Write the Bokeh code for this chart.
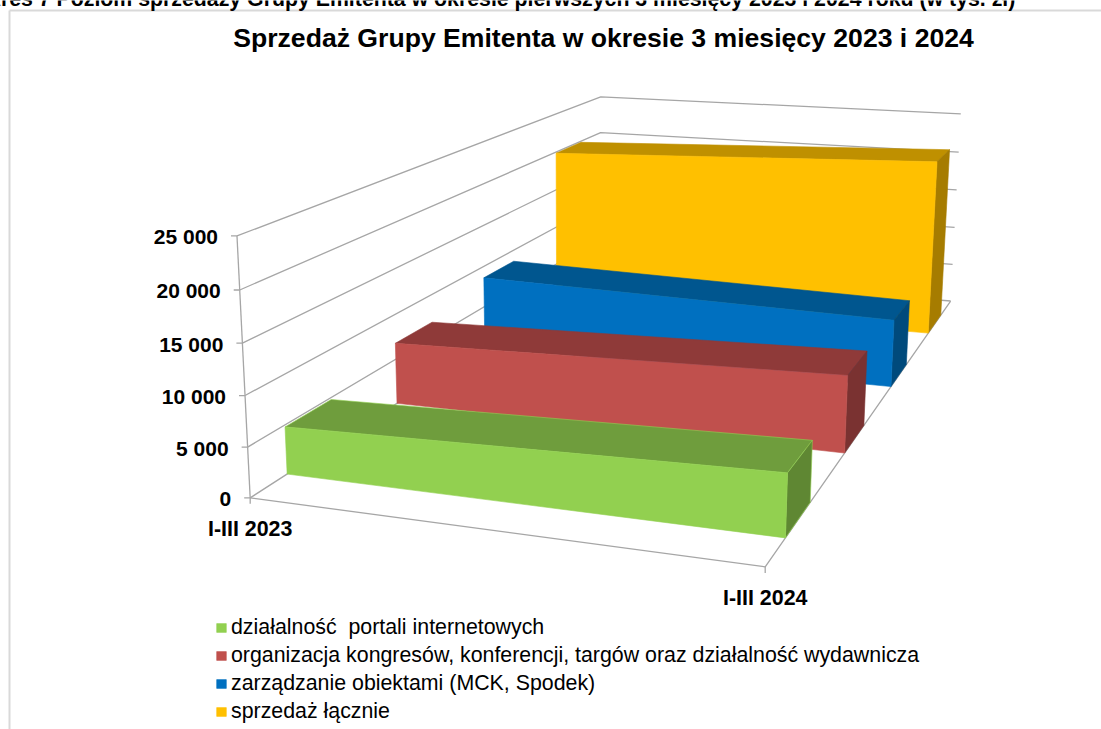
import numpy as np
from bokeh.plotting import figure
from bokeh.models import Legend, LegendItem, Range1d
from bokeh.core.properties import value
from bokeh.embed import file_html
from bokeh.resources import INLINE

# ---- data ----
categories = ["I-III 2023", "I-III 2024"]
series_names = [
    "działalność  portali internetowych",
    "organizacja kongresów, konferencji, targów oraz działalność wydawnicza",
    "zarządzanie obiektami (MCK, Spodek)",
    "sprzedaż łącznie",
]
portale = [4800, 6050]
kongresy = [6800, 8100]
obiekty = [8600, 7700]
lacznie = [19850, 21550]
y_ticks = [0, 5000, 10000, 15000, 20000, 25000]
y_labels = ["0", "5 000", "10 000", "15 000", "20 000", "25 000"]
title = "Sprzedaż Grupy Emitenta w okresie 3 miesięcy 2023 i 2024"
page_caption = "Wykres 7 Poziom sprzedaży Grupy Emitenta w okresie pierwszych 3 miesięcy 2023 i 2024 roku (w tys. zł)"

# ---- styles ----
front = ["#92D050", "#C0504D", "#0070C0", "#FFC000"]
top = ["#6F9D3D", "#8F3A39", "#00568F", "#BF9000"]
side = ["#5F8733", "#7A3231", "#004A7C", "#A67C00"]
edge_top = ["#92D050", "#8F3A39", "#00568F", "#BF9000"]
edge_side = ["#92D050", "#7A3231", "#004A7C", "#A67C00"]
GRID = "#A6A6A6"
FONT = value("Liberation Sans")

# ---- 3D box -> screen projection, fitted on the visible box corners ----
corners = [
    ((0, 0, 0), (249.5, 497.0)),
    ((0, 0, 1), (236.7, 235.5)),
    ((1, 0, 0), (764.7, 566.7)),
    ((1, 1, 0), (950.0, 300.0)),
    ((1, 1, 1), (960.4, 113.7)),
    ((0, 1, 1), (600.0, 96.0)),
    ((0, 1, 0), (600.0, 272.5)),
]
rows = []
for (a, b, c), (sx, sy) in corners:
    rows.append([a, b, c, 1, 0, 0, 0, 0, -sx * a, -sx * b, -sx * c, -sx])
    rows.append([0, 0, 0, 0, a, b, c, 1, -sy * a, -sy * b, -sy * c, -sy])
P = np.linalg.svd(np.array(rows, float))[2][-1].reshape(3, 4)


def proj(u, d, val):
    h = P @ np.array([u, d, val / y_ticks[-1], 1.0])
    return h[0] / h[2], h[1] / h[2]


def poly(points):
    pts = [proj(*q) for q in points]
    return [q[0] for q in pts], [q[1] for q in pts]


p = figure(width=1101, height=729, output_backend="svg", toolbar_location=None,
           x_range=Range1d(0, 1101), y_range=Range1d(729, 0), min_border=0,
           background_fill_color="white", border_fill_color="white")
p.axis.visible = False
p.grid.visible = False
p.outline_line_color = None

# page frame and caption clipped by the crop
p.line([9, 9], [10, 729], line_color="#D9D9D9", line_width=2)
p.line([9, 1101], [10, 10], line_color="#D9D9D9", line_width=2)
p.text([-43], [-2], text=[page_caption], text_font=FONT, text_font_style="bold", text_font_size="21.3px",
       text_baseline="alphabetic", text_align="left", text_color="#000000")

# walls and floor
for t in y_ticks:
    x, y = poly([(0, 0, t), (0, 1, t), (1, 1, t)])
    p.line(x, y, line_color=GRID, line_width=1.3)
    x0, y0 = proj(0, 0, t)
    p.line([x0 - 6, x0], [y0, y0], line_color=GRID, line_width=1.3)
x, y = poly([(0, 0, 0), (1, 0, 0), (1, 1, 0)])
p.line(x, y, line_color=GRID, line_width=1.3)
x, y = poly([(0, 0, 0), (0, 0, y_ticks[-1])])
p.line(x, y, line_color=GRID, line_width=1.3)
for u in (0, 1):
    x0, y0 = proj(u, 0, 0)
    p.line([x0, x0], [y0, y0 + 6], line_color=GRID, line_width=1.3)

# series bands, back to front
all_values = [portale, kongresy, obiekty, lacznie]
SLOT, GAP0, BAND = 0.25, 0.072, 0.097
legend_r = {}
for i in [3, 2, 1, 0]:
    v0, v1 = all_values[i]
    df = i * SLOT + GAP0
    db = df + BAND
    kw = dict(line_width=0.6)
    x, y = poly([(0, df, v0), (1, df, v1), (1, db, v1), (0, db, v0)])
    p.patch(x, y, fill_color=top[i], line_color=edge_top[i], **kw)
    x, y = poly([(1, df, 0), (1, db, 0), (1, db, v1), (1, df, v1)])
    p.patch(x, y, fill_color=side[i], line_color=edge_side[i], **kw)
    x, y = poly([(0, df, 0), (1, df, 0), (1, df, v1), (0, df, v0)])
    legend_r[i] = p.patch(x, y, fill_color=front[i], line_color=front[i], **kw)

# value labels
lx, ly = [], []
for t in y_ticks:
    x0, y0 = proj(0, 0, t)
    lx.append(x0 - 19)
    ly.append(y0 + 1)
p.text(lx, ly, text=y_labels, text_font=FONT, text_font_style="bold", text_font_size="21px",
       text_align="right", text_baseline="middle", text_color="#000000")

# category labels
cx, cy = [], []
for u in (0, 1):
    x0, y0 = proj(u, 0, 0)
    cx.append(x0)
    cy.append(y0 + 31)
p.text(cx, cy, text=categories, text_font=FONT, text_font_style="bold", text_font_size="21.4px",
       text_align="center", text_baseline="middle", text_color="#000000")

# title
p.text([603], [37.5], text=[title], text_font=FONT, text_font_style="bold", text_font_size="26.6px",
       text_align="center", text_baseline="middle", text_color="#000000")

legend = Legend(
    items=[LegendItem(label=series_names[i], renderers=[legend_r[i]]) for i in range(4)],
    location=(215, 4), orientation="vertical", background_fill_alpha=0, border_line_color=None,
    glyph_width=12, glyph_height=11, label_standoff=4, spacing=0, padding=0, margin=0,
    label_height=28, label_text_font="Liberation Sans", label_text_font_size="21.35px", label_text_color="#000000",
)
p.add_layout(legend, "center")

open("out.html", "w").write(file_html(p, INLINE))
